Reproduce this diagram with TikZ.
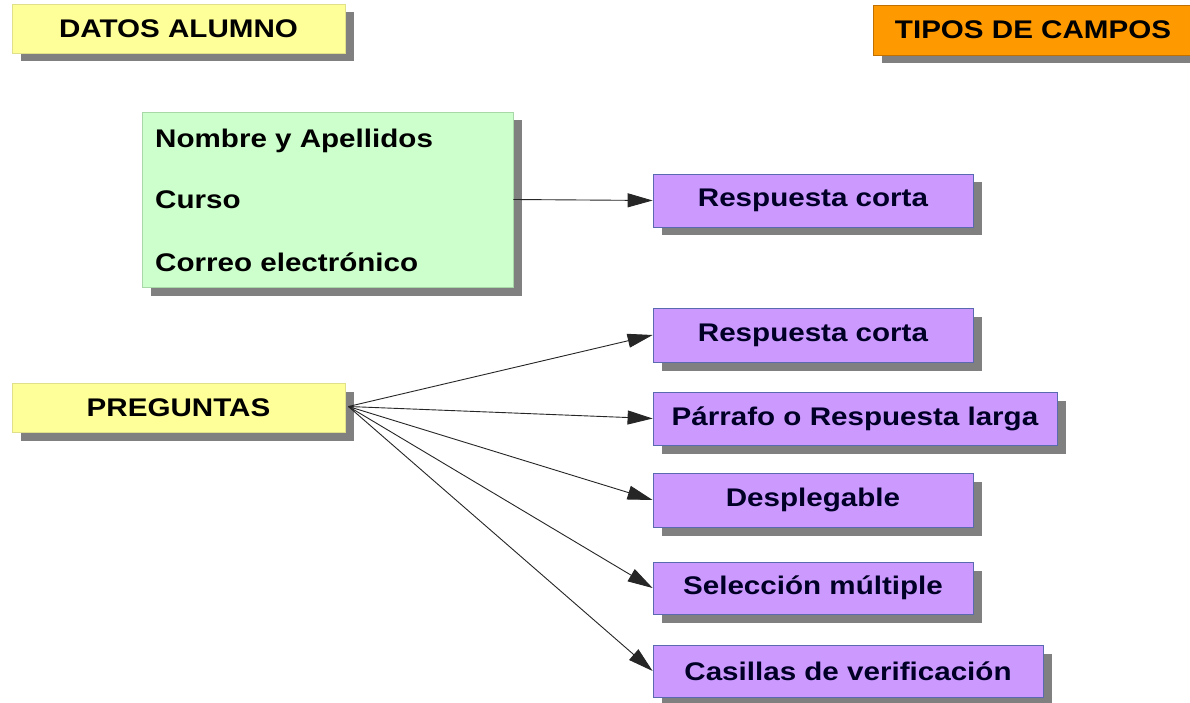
\documentclass[tikz,border=0pt]{standalone}
\usepackage{fontspec}
\setmainfont{Liberation Sans}[FakeStretch=1.16]
\usetikzlibrary{arrows.meta,shadows}
\definecolor{yel}{HTML}{FFFF99}
\definecolor{yelb}{HTML}{E0E08A}
\definecolor{grn}{HTML}{CCFFCC}
\definecolor{grnb}{HTML}{A8D8A8}
\definecolor{pur}{HTML}{CC99FF}
\definecolor{purb}{HTML}{5A6AB0}
\definecolor{org}{HTML}{FF9900}
\definecolor{orgb}{HTML}{C07000}
\definecolor{shd}{HTML}{808080}
\begin{document}
\begin{tikzpicture}[x=1pt,y=-1pt,
  box/.style={rectangle,inner sep=0pt,line width=0.8pt,
    font=\fontsize{25.5}{30}\selectfont\bfseries,text=black,
    general shadow={fill=shd,shadow xshift=8.5pt,shadow yshift=-8.5pt}},
  ybox/.style={box,fill=yel,draw=yelb},
  obox/.style={box,fill=org,draw=orgb},
  gbox/.style={box,fill=grn,draw=grnb},
  pbox/.style={box,fill=pur,draw=purb,text=black!85!blue},
  item/.style={inner sep=0pt,anchor=base west,font=\fontsize{25.5}{30}\selectfont\bfseries},
  arr/.style={-{Triangle[length=25pt,width=14pt]},line width=0.9pt,draw=black!85}]
\useasboundingbox (0,0) rectangle (1190,703);
\fill[white] (0,0) rectangle (1190,703);
\node[ybox,minimum width=333pt,minimum height=49pt] (datos) at (178.5,28.5) {DATOS ALUMNO};
\node[obox,minimum width=320pt,minimum height=50pt] (tipos) at (1033,30) {TIPOS DE CAMPOS};
\node[gbox,minimum width=371pt,minimum height=175pt] (green) at (327.5,199.5) {};
\node[item] (nom) at (155,148) {Nombre y Apellidos};
\node[item] (cur) at (155,209) {Curso};
\node[item] (cor) at (155,271) {Correo electrónico};
\node[pbox,minimum width=320pt,minimum height=53pt] (rc1) at (813,200.5) {Respuesta corta};
\node[ybox,minimum width=333pt,minimum height=49pt] (preg) at (178.5,407.5) {PREGUNTAS};
\node[pbox,minimum width=320pt,minimum height=54pt] (rc2) at (813,335) {Respuesta corta};
\node[pbox,minimum width=404pt,minimum height=53pt] (parr) at (855,418.5) {Párrafo o Respuesta larga};
\node[pbox,minimum width=320pt,minimum height=54pt] (desp) at (813,500) {Desplegable};
\node[pbox,minimum width=320pt,minimum height=52pt] (sel) at (813,588) {Selección múltiple};
\node[pbox,minimum width=390pt,minimum height=52pt] (cas) at (848,671) {Casillas de verificación};
\draw[arr] (green.east) -- (rc1.west);
\coordinate (p0) at ([xshift=3pt,yshift=1pt]preg.east);
\draw[arr] (p0) -- (rc2.west);
\draw[arr] (p0) -- (parr.west);
\draw[arr] (p0) -- (desp.west);
\draw[arr] (p0) -- (sel.west);
\draw[arr] (p0) -- (cas.west);
\end{tikzpicture}
\end{document}
